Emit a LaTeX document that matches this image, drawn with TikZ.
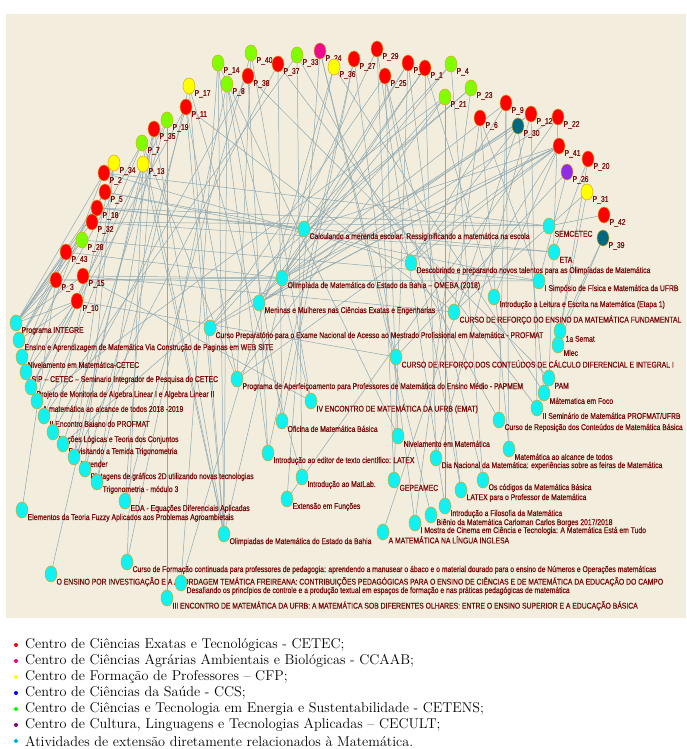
\documentclass[tikz,border=0pt]{standalone}
\usepackage{fontspec}
\newfontfamily\lblfont{Liberation Sans}[FakeStretch=0.81,FakeBold=0.6]
\usetikzlibrary{shapes.geometric,backgrounds}

\definecolor{paper}{HTML}{F2EDDC}
\definecolor{lblred}{HTML}{7A0A0A}
\definecolor{edgec}{HTML}{8FA9B2}
\definecolor{cred}{HTML}{FF0000}
\definecolor{cgreen}{HTML}{80FF00}
\definecolor{cyel}{HTML}{FFFF00}
\definecolor{cpink}{HTML}{EE0A8C}
\definecolor{cteal}{HTML}{00687F}
\definecolor{cpurp}{HTML}{8E2CE8}
\definecolor{ccyan}{HTML}{10F2F2}
\definecolor{rim}{HTML}{D9A520}
\definecolor{lgpink}{HTML}{E6007E}
\definecolor{lgblue}{HTML}{0000FF}
\definecolor{lggreen}{HTML}{00FF00}
\definecolor{lgpurp}{HTML}{800080}
\definecolor{lgsky}{HTML}{00B0F0}

\tikzset{
  vert/.style={ellipse, draw=rim, line width=0.5pt, minimum width=12pt, minimum height=16pt, inner sep=0pt},
  lbl/.style={anchor=west, text=lblred, font=\lblfont\fontsize{8.4}{9}\selectfont, inner sep=1pt, yshift=-2pt},
  prof/.style={vert, fill=#1},
  ativ/.style={vert, fill=ccyan},
  link/.style={draw=edgec, line width=0.5pt},
  bul/.style={circle, inner sep=0pt, minimum size=4pt, fill=#1},
  lgtext/.style={anchor=west, inner sep=0pt, font=\fontsize{14.2}{16}\selectfont},
}

\begin{document}
\begin{tikzpicture}[x=1pt,y=-1pt]
\useasboundingbox (0,0) rectangle (686,749);

% atividades
\node[ativ, label={[lbl]south east:{Calculando a merenda escolar: Ressiginificando a matemática na escola}}] (calc) at (304,229) {};
\node[ativ, label={[lbl]south east:{SEMCETEC}}] (semcetec) at (549,226) {};
\node[ativ, label={[lbl]south east:{ETA}}] (eta) at (554,252) {};
\node[ativ, label={[lbl]south east:{Descobrindo e preparando novos talentos para as Olimpíadas de Matemática}}] (descob) at (411,263) {};
\node[ativ, label={[lbl]south east:{Olimpíada de Matemática do Estado da Bahia – OMEBA (2018)}}] (omeba) at (282,278) {};
\node[ativ, label={[lbl]south east:{I Simpósio de Física e Matemática da UFRB}}] (simposio) at (539,281) {};
\node[ativ, label={[lbl]south east:{Introdução a Leitura e Escrita na Matemática (Etapa 1)}}] (leitura) at (494,297) {};
\node[ativ, label={[lbl]south east:{Meninas e Mulheres nas Ciências Exatas e Engenharias}}] (meninas) at (259,303) {};
\node[ativ, label={[lbl]south east:{CURSO DE REFORÇO DO ENSINO DA MATEMÁTICA FUNDAMENTAL}}] (reffund) at (454,312) {};
\node[ativ, label={[lbl]south east:{Curso Preparatório para o Exame Nacional de Acesso ao Mestrado Profissional em Matemática - PROFMAT}}] (prep) at (210,328) {};
\node[ativ, label={[lbl]south east:{1a Semat}}] (semat) at (560,331) {};
\node[ativ, label={[lbl]south east:{Mlec}}] (mlec) at (558,345) {};
\node[ativ, label={[lbl]south east:{CURSO DE REFORÇO DOS CONTEÚDOS DE CÁLCULO DIFERENCIAL E INTEGRAL I}}] (refcalc) at (396,357) {};
\node[ativ, label={[lbl]south east:{Programa de Aperfeiçoamento para Professores de Matemática do Ensino Médio - PAPMEM}}] (papmem) at (237,379) {};
\node[ativ, label={[lbl]south east:{PAM}}] (pam) at (549,378) {};
\node[ativ, label={[lbl]south east:{Mátematica em Foco}}] (foco) at (544,393) {};
\node[ativ, label={[lbl]south east:{IV ENCONTRO DE MATEMÁTICA DA UFRB (EMAT)}}] (emat) at (311,401) {};
\node[ativ, label={[lbl]south east:{II Seminário de Matemática PROFMAT/UFRB}}] (semprof) at (537,408) {};
\node[ativ, label={[lbl]south east:{Oficina de Matemática Básica}}] (oficina) at (282,421) {};
\node[ativ, label={[lbl]south east:{Curso de Reposição dos Conteúdos de Matemática Básica}}] (repos) at (499,420) {};
\node[ativ, label={[lbl]south east:{Nivelamento em Matemática}}] (nivel) at (398,436) {};
\node[ativ, label={[lbl]south east:{Matemática ao alcance de todos}}] (alcance) at (509,449) {};
\node[ativ, label={[lbl]south east:{Introdução ao editor de texto científico: LATEX}}] (editor) at (268,453) {};
\node[ativ, label={[lbl]south east:{Dia Nacional da Matemática: experiências sobre as feiras de Matemática}}] (dianac) at (436,458) {};
\node[ativ, label={[lbl]south east:{Introdução ao MatLab.}}] (matlab) at (302,477) {};
\node[ativ, label={[lbl]south east:{GEPEAMEC}}] (gepeamec) at (394,480) {};
\node[ativ, label={[lbl]south east:{Os códigos da Matemática Básica}}] (codigos) at (483,480) {};
\node[ativ, label={[lbl]south east:{LATEX para o Professor de Matemática}}] (latexprof) at (461,490) {};
\node[ativ, label={[lbl]south east:{Extensão em Funções}}] (funcoes) at (287,499) {};
\node[ativ, label={[lbl]south east:{Introdução a Filosofia da Matemática}}] (filos) at (445,506) {};
\node[ativ, label={[lbl]south east:{Biênio da Matemática Carloman Carlos Borges 2017/2018}}] (bienio) at (431,515) {};
\node[ativ, label={[lbl]south east:{I Mostra de Cinema em Ciência e Tecnologia: A Matemática Está em Tudo}}] (mostra) at (415,523) {};
\node[ativ, label={[lbl]south east:{A MATEMÁTICA NA LÍNGUA INGLESA}}] (ingles) at (383,532) {};
\node[ativ, label={[lbl]south east:{Olimpiadas de Matemática do Estado da Bahia}}] (olimba) at (224,534) {};
\node[ativ, label={[lbl]south east:{Curso de Formação continuada para professores de pedagogia: aprendendo a manusear o ábaco e o material dourado para o ensino de Números e Operações matemáticas}}] (formacao) at (127,562) {};
\node[ativ, label={[lbl]south east:{O ENSINO POR INVESTIGAÇÃO E A ABORDAGEM TEMÁTICA FREIREANA: CONTRIBUIÇÕES PEDAGÓGICAS PARA O ENSINO DE CIÊNCIAS E DE MATEMÁTICA DA EDUCAÇÃO DO CAMPO}}] (investig) at (51,574) {};
\node[ativ, label={[lbl]south east:{Desafiando os princípios de controle e a produção textual em espaços de formação e nas práticas pedagógicas de matemática}}] (desafio) at (181,583) {};
\node[ativ, label={[lbl]south east:{III ENCONTRO DE MATEMÁTICA DA UFRB: A MATEMÁTICA SOB DIFERENTES OLHARES: ENTRE O ENSINO SUPERIOR E A EDUCAÇÃO BÁSICA}}] (iiienc) at (167,598) {};
\node[ativ, label={[lbl]south east:{Programa INTEGRE}}] (integre) at (16,323) {};
\node[ativ, label={[lbl]south east:{Ensino e Aprendizagem de Matemática Via Construção de Paginas em WEB SITE}}] (website) at (19,340) {};
\node[ativ, label={[lbl]south east:{Nivelamento em Matemática-CETEC}}] (nivcetec) at (22,357) {};
\node[ativ, label={[lbl]south east:{SIP – CETEC – Seminario Integrador de Pesquisa do CETEC}}] (sip) at (26,372) {};
\node[ativ, label={[lbl]south east:{Projeto de Monitoria de Algebra Linear I e Algebra Linear II}}] (monitoria) at (31,387) {};
\node[ativ, label={[lbl]south east:{A matemática ao alcance de todos 2018 -2019}}] (alc1819) at (37,401) {};
\node[ativ, label={[lbl]south east:{II Encontro Baiano do PROFMAT}}] (encprof) at (44,416) {};
\node[ativ, label={[lbl]south east:{Noções Lógicas e Teoria dos Conjuntos}}] (nocoes) at (53,432) {};
\node[ativ, label={[lbl]south east:{Revisitando a Temida Trigonometria}}] (revis) at (63,444) {};
\node[ativ, label={[lbl]south east:{Aprender}}] (aprender) at (74,457) {};
\node[ativ, label={[lbl]south east:{Plotagens de gráficos 2D utilizando novas tecnologias}}] (plot) at (85,469) {};
\node[ativ, label={[lbl]south east:{Trigonometria - módulo 3}}] (trigo) at (97,482) {};
\node[ativ, label={[lbl]south east:{EDA - Equações Diferenciais Aplicadas}}] (eda) at (125,501) {};
\node[ativ, label={[lbl]south east:{Elementos da Teoria Fuzzy Aplicados aos Problemas Agroambietais}}] (fuzzy) at (22,510) {};

% projetos por centro
\node[prof=cgreen, label={[lbl]south east:P\_40}] (p40) at (251,53) {};
\node[prof=cgreen, label={[lbl]south east:P\_14}] (p14) at (218,63) {};
\node[prof=cred,   label={[lbl]south east:P\_37}] (p37) at (278,64) {};
\node[prof=cgreen, label={[lbl]south east:P\_33}] (p33) at (297,55) {};
\node[prof=cpink,  label={[lbl]south east:P\_24}] (p24) at (320,51) {};
\node[prof=cyel,   label={[lbl]south east:P\_36}] (p36) at (334,67) {};
\node[prof=cred,   label={[lbl]south east:P\_38}] (p38) at (248,76) {};
\node[prof=cgreen, label={[lbl]south east:P\_8}]  (p8)  at (227,84) {};
\node[prof=cyel,   label={[lbl]south east:P\_17}] (p17) at (189,86) {};
\node[prof=cred,   label={[lbl]south east:P\_11}] (p11) at (186,107) {};
\node[prof=cgreen, label={[lbl]south east:P\_19}] (p19) at (167,120) {};
\node[prof=cred,   label={[lbl]south east:P\_35}] (p35) at (154,129) {};
\node[prof=cgreen, label={[lbl]south east:P\_7}]  (p7)  at (142,143) {};
\node[prof=cyel,   label={[lbl]south east:P\_34}] (p34) at (114,163) {};
\node[prof=cyel,   label={[lbl]south east:P\_13}] (p13) at (143,164) {};
\node[prof=cred,   label={[lbl]south east:P\_2}]  (p2)  at (104,173) {};
\node[prof=cred,   label={[lbl]south east:P\_5}]  (p5)  at (105,192) {};
\node[prof=cred,   label={[lbl]south east:P\_18}] (p18) at (97,208) {};
\node[prof=cred,   label={[lbl]south east:P\_32}] (p32) at (92,222) {};
\node[prof=cgreen, label={[lbl]south east:P\_28}] (p28) at (82,240) {};
\node[prof=cred,   label={[lbl]south east:P\_43}] (p43) at (66,252) {};
\node[prof=cred,   label={[lbl]south east:P\_3}]  (p3)  at (56,280) {};
\node[prof=cred,   label={[lbl]south east:P\_15}] (p15) at (83,276) {};
\node[prof=cred,   label={[lbl]south east:P\_10}] (p10) at (77,301) {};
\node[prof=cred,   label={[lbl]south east:P\_29}] (p29) at (377,49) {};
\node[prof=cred,   label={[lbl]south east:P\_27}] (p27) at (354,59) {};
\node[prof=cred,   label={[lbl]south east:P\_25}] (p25) at (385,76) {};
\node[prof=cred,   label={[lbl]south east:P\_16}] (p16) at (408,63) {};
\node[prof=cred,   label={[lbl]south east:P\_1}]  (p1)  at (425,68) {};
\node[prof=cgreen, label={[lbl]south east:P\_4}]  (p4)  at (451,64) {};
\node[prof=cgreen, label={[lbl]south east:P\_23}] (p23) at (471,88) {};
\node[prof=cgreen, label={[lbl]south east:P\_21}] (p21) at (445,97) {};
\node[prof=cred,   label={[lbl]south east:P\_9}]  (p9)  at (506,103) {};
\node[prof=cred,   label={[lbl]south east:P\_6}]  (p6)  at (480,118) {};
\node[prof=cred,   label={[lbl]south east:P\_12}] (p12) at (531,114) {};
\node[prof=cred,   label={[lbl]south east:P\_22}] (p22) at (558,117) {};
\node[prof=cteal,  label={[lbl]south east:P\_30}] (p30) at (518,126) {};
\node[prof=cred,   label={[lbl]south east:P\_41}] (p41) at (559,146) {};
\node[prof=cred,   label={[lbl]south east:P\_20}] (p20) at (588,159) {};
\node[prof=cpurp,  label={[lbl]south east:P\_26}] (p26) at (567,172) {};
\node[prof=cyel,   label={[lbl]south east:P\_31}] (p31) at (587,192) {};
\node[prof=cred,   label={[lbl]south east:P\_42}] (p42) at (604,215) {};
\node[prof=cteal,  label={[lbl]south east:P\_39}] (p39) at (603,238) {};

\begin{scope}[on background layer]
\fill[paper] (6,14) rectangle (686,618);
\foreach \a/\b in {p1/omeba,p1/meninas,p1/leitura,p2/semcetec,p2/descob,p2/integre,
  p3/omeba,p3/integre,p3/fuzzy,p4/meninas,p4/prep,p5/calc,p5/simposio,p5/website,
  p6/simposio,p6/reffund,p7/papmem,p7/olimba,p7/nivcetec,p8/olimba,p8/emat,p8/oficina,
  p9/descob,p9/omeba,p9/alcance,p10/integre,p10/refcalc,p10/sip,p11/olimba,p11/papmem,
  p11/reffund,p11/monitoria,p12/meninas,p12/prep,p12/dianac,p13/investig,p13/formacao,
  p13/olimba,p14/olimba,p14/editor,p14/nivel,p15/omeba,p15/integre,p15/emat,p16/omeba,
  p16/calc,p16/gepeamec,p17/olimba,p17/matlab,p18/semcetec,p18/integre,p18/eta,
  p19/iiienc,p19/monitoria,p20/eta,p20/semat,p21/omeba,p21/papmem,p21/alc1819,
  p22/meninas,p22/funcoes,p23/calc,p23/revis,p24/refcalc,p24/bienio,p25/prep,p25/codigos,
  p25/latexprof,p26/refcalc,p27/oficina,p27/mostra,p28/integre,p28/simposio,p29/meninas,
  p29/filos,p30/descob,p30/omeba,p30/ingles,p31/reffund,p32/semcetec,p32/integre,
  p33/repos,p33/encprof,p34/nocoes,p34/plot,p34/aprender,p35/olimba,p35/trigo,p35/eda,
  p36/desafio,p36/foco,p37/semprof,p37/aprender,p38/pam,p38/nocoes,p39/mlec,p40/emat,
  p40/eda,p41/meninas,p41/omeba,p41/descob,p41/calc,p41/prep,p41/papmem,p42/semcetec,
  p43/integre,p43/website,p43/nivcetec,
  p25/nivel,p29/gepeamec,p1/dianac,p4/codigos,p21/filos,p6/alcance,p9/repos,p12/semprof,
  p22/pam,p30/foco,p41/leitura,p41/reffund,p26/simposio,p31/semat,p39/semat,p27/editor,
  p24/funcoes,p33/matlab,p37/oficina,p36/olimba,p38/editor,p40/papmem,p14/desafio,
  p8/formacao,p17/trigo,p11/plot,p19/revis,p35/aprender,p13/encprof,p7/alc1819,p2/sip,
  p5/integre,p18/calc,p32/eta,p28/website,p43/omeba,p3/simposio,p15/reffund,p10/website,
  p23/mostra,p16/latexprof}
  \draw[link] (\a) -- (\b);
\end{scope}

% legenda
\foreach \c/\t [count=\i] in {cred/{Centro de Ciências Exatas e Tecnológicas - CETEC;},
  lgpink/{Centro de Ciências Agrárias Ambientais e Biológicas - CCAAB;},
  cyel/{Centro de Formação de Professores – CFP;},
  lgblue/{Centro de Ciências da Saúde - CCS;},
  lggreen/{Centro de Ciências e Tecnologia em Energia e Sustentabilidade - CETENS;},
  lgpurp/{Centro de Cultura, Linguagens e Tecnologias Aplicadas – CECULT;},
  lgsky/{Atividades de extensão diretamente relacionados à Matemática.}}
{
  \node[bul=\c] (b\i) at (16,629+16*\i) {};
  \node[lgtext] (t\i) at (25,629+16*\i) {\t};
}

\end{tikzpicture}
\end{document}
